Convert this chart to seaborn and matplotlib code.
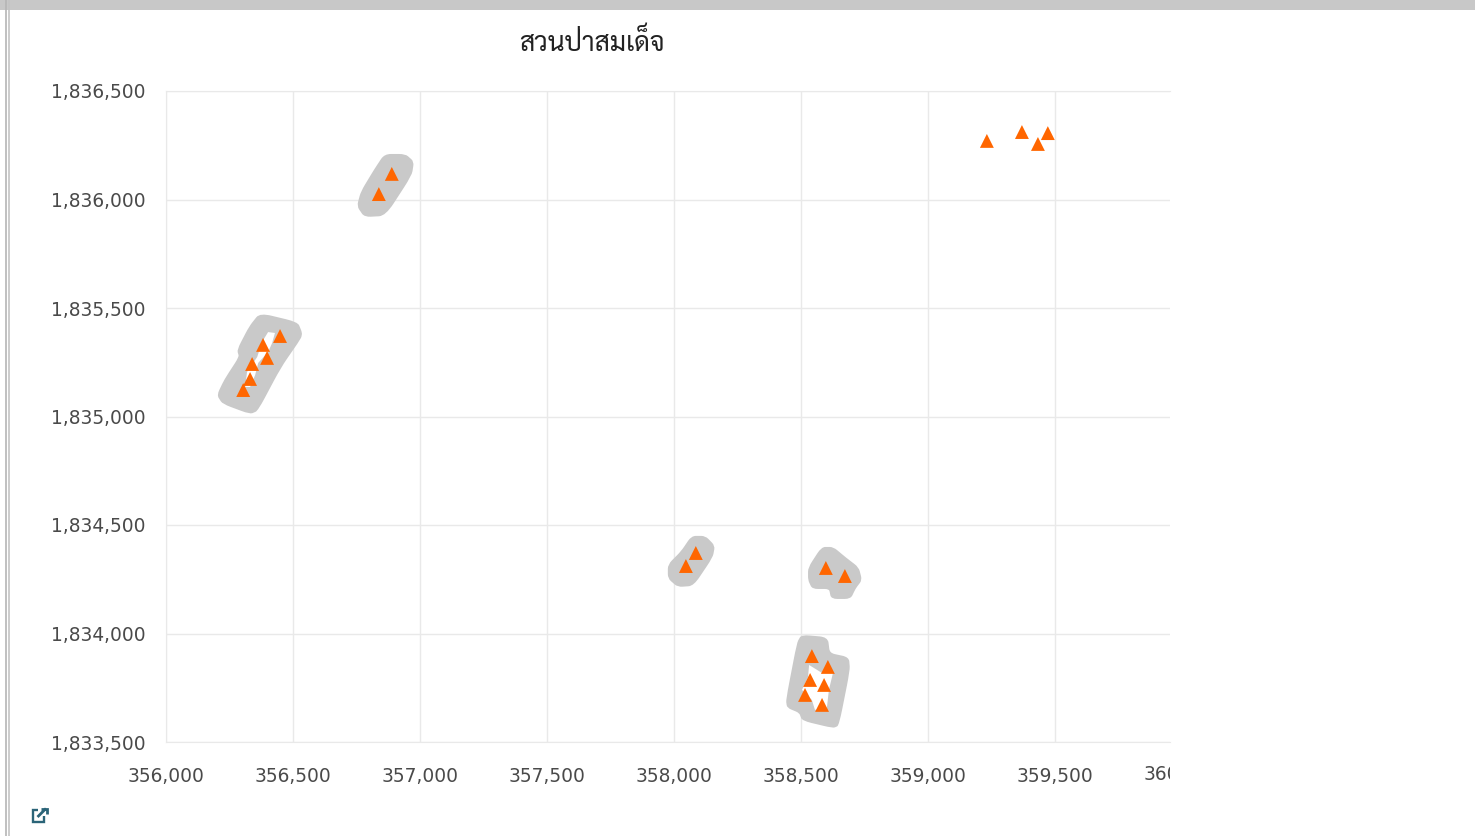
import matplotlib
matplotlib.use("Agg")
import logging
logging.getLogger("matplotlib.font_manager").setLevel(logging.ERROR)
import matplotlib.pyplot as plt
import seaborn as sns
import pandas as pd
from matplotlib.lines import Line2D
from matplotlib.patches import PathPatch, Polygon, Rectangle
from matplotlib.path import Path
from matplotlib.transforms import Bbox

TITLE = "สวนป่าสมเด็จ"
X_TICKS = [356000, 356500, 357000, 357500, 358000, 358500, 359000, 359500]
Y_TICKS = [1833500, 1834000, 1834500, 1835000, 1835500, 1836000, 1836500]
X_CLIPPED_LABEL = 360000

point_x = [359232, 359370, 359433, 359472, 356889, 356838, 356449, 356382, 356398, 356339, 356331, 356304,
           358086, 358047, 358598, 358673, 358543, 358606, 358536, 358591, 358516, 358583]
point_y = [1836270, 1836311, 1836256, 1836306, 1836118, 1836025, 1835371, 1835330, 1835270, 1835242, 1835173, 1835122,
           1834371, 1834311, 1834302, 1834265, 1833896, 1833846, 1833786, 1833763, 1833717, 1833671]

area_top = [(356862, 1836205), (356941, 1836205), (356972, 1836173), (356964, 1836113), (356862, 1835929),
            (356783, 1835924), (356756, 1835970), (356771, 1836035), (356823, 1836136)]
area_left = [(356371, 1835472), (356516, 1835431), (356532, 1835385), (356528, 1835362), (356449, 1835228),
             (356359, 1835030), (356331, 1835016), (356225, 1835062), (356205, 1835099), (356233, 1835168),
             (356292, 1835274), (356284, 1835307), (356331, 1835413)]
area_mid1 = [(358071, 1834445), (358122, 1834445), (358157, 1834403), (358149, 1834353), (358075, 1834224),
             (358016, 1834219), (357980, 1834256), (357980, 1834316), (358031, 1834376)]
area_mid2 = [(358583, 1834394), (358626, 1834394), (358673, 1834348), (358724, 1834302), (358736, 1834247),
             (358712, 1834210), (358693, 1834164), (358622, 1834164), (358614, 1834210), (358547, 1834210),
             (358532, 1834247), (358532, 1834302)]
area_bottom = [(358504, 1833989), (358602, 1833979), (358610, 1833906), (358685, 1833887), (358689, 1833832),
               (358646, 1833579), (358626, 1833569), (358508, 1833602), (358496, 1833638), (358449, 1833661),
               (358445, 1833694), (358488, 1833956)]
hole_left = [(356402, 1835389), (356429, 1835385), (356418, 1835339), (356402, 1835297), (356363, 1835247),
             (356351, 1835191), (356331, 1835136), (356312, 1835136), (356319, 1835205), (356359, 1835274),
             (356378, 1835343)]
hole_bottom = [(358532, 1833855), (358583, 1833818), (358626, 1833818), (358610, 1833740), (358602, 1833657),
               (358555, 1833648), (358543, 1833694), (358504, 1833740), (358528, 1833800)]

W, H = 1475, 836
sns.set_theme(style="white")
plt.rcParams["font.family"] = ["DejaVu Sans"]
fig = plt.figure(figsize=(W / 100, H / 100), dpi=100, facecolor="white")
ax = fig.add_axes([166 / W, 1 - 742 / H, (1170 - 166) / W, (742 - 91) / H])

GRID = "#e9e9e9"
TXT = "#4a4a4a"


def rounded(pts, cut=0.3):
    """Closed path through the outline with softened corners."""
    verts, codes = [], []
    n = len(pts)
    for i in range(n):
        p, c, q = pts[i - 1], pts[i], pts[(i + 1) % n]
        a = (c[0] + (p[0] - c[0]) * cut, c[1] + (p[1] - c[1]) * cut)
        b = (c[0] + (q[0] - c[0]) * cut, c[1] + (q[1] - c[1]) * cut)
        verts += [a, c, b]
        codes += [Path.MOVETO if i == 0 else Path.LINETO, Path.CURVE3, Path.CURVE3]
    verts.append(verts[0])
    codes.append(Path.CLOSEPOLY)
    return Path(verts, codes)


for area in (area_top, area_left, area_mid1, area_mid2, area_bottom):
    ax.add_patch(PathPatch(rounded(area), fc="#c9c9c9", ec="#c9c9c9", lw=1.5, zorder=2))
for hole in (hole_left, hole_bottom):
    ax.add_patch(Polygon(hole, closed=True, fc="white", ec="none", zorder=2.5))

df = pd.DataFrame({"x": point_x, "y": point_y})
sns.scatterplot(data=df, x="x", y="y", marker="^", s=100, color="#ff6600", edgecolor="none", ax=ax, zorder=3)

ax.set_xlim(356000, 359953)
ax.set_ylim(1833500, 1836500)
ax.set_xticks(X_TICKS)
ax.set_yticks(Y_TICKS)
ax.set_xticklabels([f"{v:,}" for v in X_TICKS])
ax.set_yticklabels([f"{v:,}" for v in Y_TICKS])
ax.tick_params(axis="both", length=0, labelsize=13.4, labelcolor=TXT)
ax.tick_params(axis="x", pad=18)
ax.tick_params(axis="y", pad=15)
ax.set_xlabel("")
ax.set_ylabel("")
ax.grid(True, color=GRID, lw=1.0)
ax.set_axisbelow(True)
for side, s in ax.spines.items():
    s.set_visible(side != "right")
    s.set_color(GRID)
    s.set_linewidth(0.8)

clipped = fig.text(1182.5 / W, 1 - 775 / H, f"{X_CLIPPED_LABEL:,}", ha="center", va="center",
                   fontsize=13.4, color=TXT)
clipped.set_clip_box(Bbox([[0, 0], [1170, H]]))
clipped.set_clip_on(True)

THAI = ["Sarabun", "Anuphan", "DejaVu Sans"]
fig.text(592 / W, 1 - 43 / H, TITLE, ha="center", va="center", fontsize=19, color="#222222", family=THAI)

# page frame
fig.add_artist(Rectangle((0, 1 - 10 / H), 1, 10 / H, transform=fig.transFigure, fc="#c8c8c8", ec="none"))
for px, c in ((5.5, "#b5b5b5"), (8.5, "#c4c4c4")):
    fig.add_artist(Line2D([px / W, px / W], [0, 1], transform=fig.transFigure, color=c, lw=1.2))

# open-in-new icon
ICON = "#2b6478"


def seg(xs, ys, lw=1.7):
    fig.add_artist(Line2D([x / W for x in xs], [1 - y / H for y in ys], transform=fig.transFigure,
                          color=ICON, lw=lw, solid_capstyle="butt", solid_joinstyle="miter"))


seg([38, 32.5, 32.5, 44, 44], [810, 810, 822, 822, 816])
seg([37.5, 46], [817, 808.5], lw=2)
seg([41, 47, 47], [808.5, 808.5, 814], lw=2)

fig.savefig("out.png", dpi=100)
